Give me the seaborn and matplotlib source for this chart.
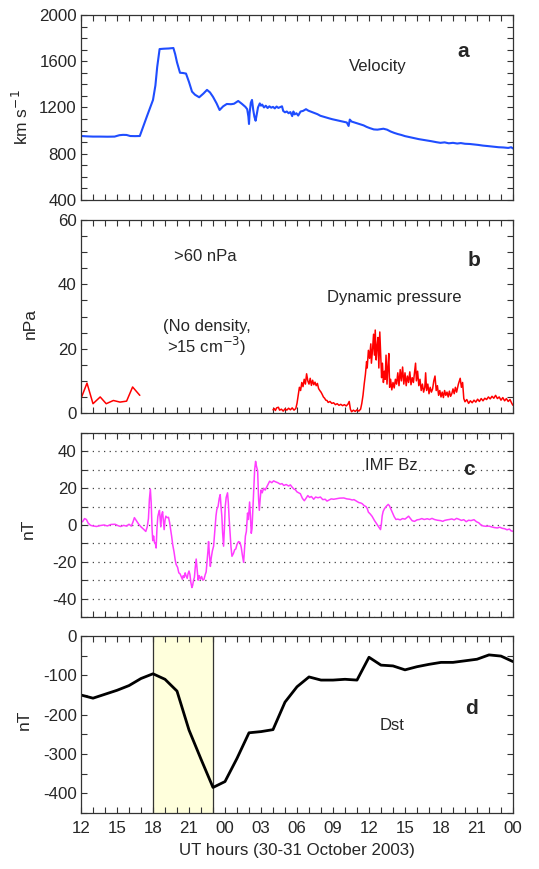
import pandas as pd
import matplotlib
matplotlib.use("Agg")
import matplotlib.pyplot as plt
import seaborn as sns
from matplotlib.ticker import MultipleLocator, FixedLocator

# hours counted from 00 UT 30 Oct 2003 (12 -> 12 UT on 30th, 48 -> 00 UT on 1 Nov)
hour_ticks = [12, 15, 18, 21, 24, 27, 30, 33, 36, 39, 42, 45, 48]
hour_labels = ["12", "15", "18", "21", "00", "03", "06", "09", "12", "15", "18", "21", "00"]

# (hour, km/s)
velocity = [
    (12.0, 953), (12.5, 950), (13.0, 948), (13.6, 948), (14.2, 947), (14.8, 948),
    (15.2, 960), (15.5, 963), (15.8, 962), (16.1, 953), (16.5, 952), (16.9, 953),
    (17.2, 1040), (17.5, 1125), (17.8, 1210), (18.0, 1265), (18.2, 1390), (18.35, 1550),
    (18.55, 1705), (18.9, 1708), (19.3, 1710), (19.7, 1714), (19.85, 1660), (20.0, 1590),
    (20.25, 1500), (20.5, 1498), (20.75, 1493), (21.0, 1420), (21.25, 1337), (21.5, 1310),
    (21.85, 1288), (22.2, 1320), (22.5, 1352), (22.75, 1330), (23.0, 1292), (23.3, 1235),
    (23.55, 1178), (23.85, 1210), (24.15, 1230), (24.5, 1228), (24.75, 1232), (25.1, 1256),
    (25.4, 1232), (25.7, 1205), (25.85, 1185), (25.95, 1120), (26.0, 1057), (26.05, 1150),
    (26.15, 1240), (26.25, 1265), (26.35, 1180), (26.45, 1120), (26.55, 1085), (26.65, 1140),
    (26.75, 1200), (26.9, 1235), (27.0, 1215), (27.1, 1225), (27.25, 1200), (27.4, 1215),
    (27.55, 1195), (27.7, 1210), (27.85, 1198), (28.0, 1205), (28.15, 1192), (28.3, 1208),
    (28.45, 1196), (28.6, 1203), (28.75, 1210), (28.85, 1170), (29.0, 1158), (29.15, 1165),
    (29.3, 1150), (29.45, 1160), (29.6, 1125), (29.7, 1165), (29.8, 1140), (29.95, 1150),
    (30.1, 1130), (30.3, 1165), (30.5, 1170), (30.75, 1185), (30.95, 1172), (31.2, 1162),
    (31.45, 1152), (31.7, 1142), (31.95, 1128), (32.2, 1120), (32.45, 1112), (32.7, 1105),
    (32.95, 1098), (33.2, 1092), (33.45, 1086), (33.7, 1080), (33.95, 1074), (34.15, 1070),
    (34.3, 1040), (34.4, 1095), (34.55, 1078), (34.8, 1070), (35.05, 1062), (35.3, 1055),
    (35.55, 1045), (35.8, 1032), (36.05, 1022), (36.4, 1010), (36.7, 1008), (36.95, 1012),
    (37.2, 1016), (37.5, 1008), (37.8, 992), (38.1, 980), (38.4, 970), (38.7, 962),
    (39.0, 952), (39.45, 942), (39.8, 935), (40.15, 926), (40.5, 920), (40.85, 914),
    (41.2, 908), (41.6, 900), (41.95, 894), (42.3, 898), (42.65, 890), (43.0, 894),
    (43.35, 888), (43.65, 892), (44.0, 886), (44.4, 884), (44.75, 880), (45.1, 876),
    (45.5, 870), (45.9, 866), (46.4, 860), (46.8, 856), (47.2, 854), (47.6, 850),
    (47.85, 856), (48.0, 845),
]

# (hour, nPa) before the data gap
pressure_early = [
    (12.0, 4.5), (12.5, 9.3), (13.0, 2.9), (13.6, 5.0), (14.1, 2.9), (14.7, 3.9),
    (15.25, 3.4), (15.8, 3.7), (16.3, 8.1), (16.9, 5.5),
]

# (hour, nPa) after the data gap
pressure_late = [
    (28.0, 1.0), (28.1, 1.4), (28.2, 0.8), (28.3, 1.6), (28.45, 1.8), (28.55, 0.9),
    (28.7, 1.2), (28.85, 0.6), (29.0, 1.3), (29.15, 0.9), (29.3, 1.5), (29.45, 1.0),
    (29.6, 1.6), (29.75, 0.9), (29.9, 1.4), (30.0, 3.0), (30.1, 5.5), (30.2, 8.0),
    (30.3, 7.0), (30.4, 9.5), (30.5, 8.2), (30.6, 10.5), (30.7, 9.0), (30.8, 12.2),
    (30.9, 10.0), (31.0, 9.0), (31.1, 10.8), (31.2, 8.6), (31.3, 10.2), (31.4, 8.8),
    (31.5, 9.6), (31.6, 8.5), (31.7, 9.2), (31.8, 7.6), (31.9, 7.0), (32.0, 6.5),
    (32.1, 5.8), (32.2, 5.0), (32.3, 4.6), (32.4, 4.0), (32.5, 3.9), (32.6, 3.3),
    (32.75, 3.6), (32.9, 3.0), (33.05, 3.2), (33.2, 2.6), (33.35, 2.9), (33.5, 2.4),
    (33.65, 2.7), (33.8, 2.3), (33.95, 2.6), (34.1, 2.2), (34.25, 2.8), (34.35, 3.6),
    (34.45, 1.2), (34.55, 0.4), (34.7, 0.9), (34.85, 0.5), (35.0, 1.0), (35.15, 0.6),
    (35.3, 1.2), (35.4, 3.0), (35.5, 5.5), (35.6, 9.0), (35.7, 12.0), (35.8, 16.0),
    (35.85, 14.0), (35.95, 19.5), (36.05, 17.0), (36.15, 21.5), (36.2, 15.5), (36.3, 20.0),
    (36.38, 24.5), (36.45, 18.0), (36.52, 25.8), (36.6, 16.5), (36.68, 21.0), (36.75, 23.5),
    (36.82, 14.0), (36.9, 25.2), (36.98, 17.5), (37.05, 11.0), (37.12, 15.5), (37.2, 9.5),
    (37.28, 13.0), (37.35, 10.5), (37.42, 18.0), (37.5, 9.0), (37.58, 14.5), (37.65, 18.5),
    (37.72, 8.0), (37.8, 10.5), (37.9, 7.2), (38.0, 9.5), (38.1, 7.8), (38.2, 10.5),
    (38.3, 9.0), (38.4, 12.5), (38.5, 8.5), (38.6, 13.5), (38.7, 10.0), (38.8, 14.3),
    (38.9, 9.0), (39.0, 12.5), (39.1, 8.5), (39.2, 11.5), (39.3, 9.5), (39.4, 12.8),
    (39.5, 8.8), (39.6, 11.0), (39.7, 9.5), (39.8, 13.0), (39.88, 15.5), (39.95, 10.0),
    (40.05, 13.0), (40.15, 8.5), (40.25, 10.5), (40.35, 7.0), (40.45, 9.0), (40.55, 6.5),
    (40.65, 8.0), (40.72, 12.5), (40.8, 7.0), (40.9, 9.0), (41.0, 6.0), (41.1, 8.0),
    (41.2, 6.5), (41.3, 7.5), (41.4, 10.0), (41.5, 11.5), (41.6, 7.0), (41.7, 8.5),
    (41.8, 5.5), (41.9, 7.0), (42.0, 5.0), (42.1, 6.5), (42.2, 4.8), (42.3, 7.0),
    (42.4, 5.5), (42.5, 6.5), (42.6, 5.0), (42.7, 6.8), (42.8, 5.2), (42.9, 6.0),
    (43.0, 7.5), (43.1, 6.0), (43.2, 8.0), (43.3, 6.5), (43.45, 9.0), (43.6, 10.8),
    (43.7, 8.0), (43.8, 9.5), (43.9, 4.5), (44.0, 3.5), (44.15, 4.2), (44.3, 3.0),
    (44.45, 3.8), (44.6, 3.2), (44.75, 4.0), (44.9, 3.4), (45.05, 4.3), (45.2, 3.6),
    (45.35, 4.5), (45.5, 3.8), (45.65, 4.6), (45.8, 4.2), (45.95, 5.0), (46.1, 4.4),
    (46.25, 5.2), (46.4, 4.6), (46.55, 5.5), (46.7, 4.5), (46.85, 5.0), (47.0, 4.0),
    (47.15, 4.8), (47.3, 3.8), (47.45, 4.5), (47.6, 3.6), (47.75, 4.2), (47.9, 3.0),
    (48.0, 2.4),
]

# (hour, nT)
imf_bz = [
    (12.0, 1.4), (12.15, 2.0), (12.3, 3.5), (12.45, 3.0), (12.6, 1.0), (12.8, -0.2),
    (13.0, -0.5), (13.3, -0.8), (13.6, -0.3), (13.9, 0.0), (14.2, -0.5), (14.5, 0.3),
    (14.84, 0.4), (15.1, -0.4), (15.3, -0.8), (15.55, -0.2), (15.8, -0.6), (16.0, 0.4),
    (16.2, -0.6), (16.35, 2.0), (16.45, 4.0), (16.6, 2.5), (16.8, 0.5), (17.0, -1.0),
    (17.2, -2.2), (17.4, -3.5), (17.52, -1.0), (17.62, 3.5), (17.7, 14.0), (17.78, 19.5),
    (17.85, 12.0), (17.92, -2.0), (17.98, -8.5), (18.05, -6.0), (18.12, -9.5), (18.2, -10.0),
    (18.26, -12.5), (18.33, -2.0), (18.4, 4.5), (18.47, 6.5), (18.54, 8.0), (18.6, 3.0),
    (18.65, -1.0), (18.72, 5.5), (18.8, 7.2), (18.87, 2.0), (18.93, -2.5), (19.0, 2.5),
    (19.07, 4.8), (19.18, 4.0), (19.29, 4.2), (19.38, 1.5), (19.45, -1.5), (19.55, -6.0),
    (19.65, -11.0), (19.75, -14.5), (19.85, -19.0), (19.93, -21.5), (20.05, -23.0), (20.15, -26.0),
    (20.25, -26.5), (20.35, -28.0), (20.45, -29.5), (20.52, -27.5), (20.6, -28.5), (20.68, -26.0),
    (20.75, -27.5), (20.85, -29.0), (20.92, -26.5), (21.0, -25.0), (21.08, -27.0), (21.15, -31.0),
    (21.24, -34.0), (21.3, -33.0), (21.38, -30.0), (21.45, -28.5), (21.52, -23.0), (21.6, -18.5),
    (21.68, -24.0), (21.76, -30.0), (21.85, -27.5), (21.95, -29.5), (22.05, -28.0), (22.15, -30.0),
    (22.25, -29.5), (22.35, -27.0), (22.43, -25.5), (22.5, -20.0), (22.58, -14.0), (22.63, -9.0),
    (22.7, -16.0), (22.78, -22.5), (22.85, -18.0), (22.95, -14.0), (23.05, -11.5), (23.15, -3.0),
    (23.25, 5.0), (23.32, 8.5), (23.42, 10.0), (23.52, 14.5), (23.6, 16.5), (23.67, 10.0),
    (23.74, 4.5), (23.8, -4.0), (23.88, -11.5), (23.95, -2.0), (24.02, 10.0), (24.1, 15.0),
    (24.21, 17.5), (24.28, 12.0), (24.34, 4.0), (24.4, -2.0), (24.5, -12.0), (24.58, -17.0),
    (24.7, -15.5), (24.8, -13.5), (24.9, -13.0), (25.0, -10.5), (25.13, -9.0), (25.25, -9.5),
    (25.35, -12.0), (25.45, -16.5), (25.55, -20.3), (25.62, -14.0), (25.7, -6.0), (25.78, -3.5),
    (25.88, 6.5), (25.95, 3.0), (26.05, 12.5), (26.12, 5.0), (26.19, -4.5), (26.25, -2.0),
    (26.32, 8.0), (26.4, 20.0), (26.47, 30.0), (26.55, 34.6), (26.62, 32.0), (26.72, 29.5),
    (26.8, 14.0), (26.86, 8.0), (26.93, 14.0), (27.0, 19.0), (27.1, 17.5), (27.22, 20.0),
    (27.35, 19.0), (27.5, 21.0), (27.62, 22.5), (27.72, 23.8), (27.9, 23.0), (28.05, 24.0),
    (28.2, 23.5), (28.4, 23.0), (28.6, 22.2), (28.75, 22.5), (28.9, 21.5), (29.1, 22.0),
    (29.3, 21.2), (29.45, 21.8), (29.6, 20.5), (29.75, 19.5), (29.86, 19.2), (30.0, 18.0),
    (30.15, 17.5), (30.28, 17.0), (30.45, 14.5), (30.61, 13.2), (30.75, 14.5), (30.9, 16.0),
    (31.05, 15.0), (31.2, 15.5), (31.39, 14.0), (31.55, 15.2), (31.75, 14.8), (31.95, 15.2),
    (32.15, 13.8), (32.35, 14.0), (32.5, 13.0), (32.65, 13.5), (32.85, 14.2), (33.06, 14.0),
    (33.3, 14.3), (33.55, 14.6), (33.9, 14.7), (34.15, 14.2), (34.4, 14.0), (34.6, 13.6),
    (34.75, 13.8), (34.95, 13.0), (35.15, 12.2), (35.3, 12.0), (35.43, 11.6), (35.6, 10.5),
    (35.75, 10.0), (35.85, 9.0), (35.95, 7.0), (36.1, 6.0), (36.26, 4.7), (36.45, 2.5),
    (36.65, 0.5), (36.8, -1.0), (36.96, -2.5), (37.03, 0.5), (37.1, 5.0), (37.18, 7.4),
    (37.3, 9.0), (37.45, 10.2), (37.6, 11.2), (37.7, 10.5), (37.8, 9.0), (37.93, 7.0),
    (38.1, 4.5), (38.25, 3.0), (38.4, 3.2), (38.6, 2.8), (38.8, 3.5), (39.0, 3.2),
    (39.15, 4.0), (39.3, 4.8), (39.45, 3.5), (39.6, 2.3), (39.8, 2.0), (40.0, 2.8),
    (40.2, 3.0), (40.4, 3.5), (40.6, 3.0), (40.85, 3.4), (41.05, 3.0), (41.25, 3.6),
    (41.45, 3.0), (41.7, 2.6), (41.95, 2.4), (42.15, 2.0), (42.3, 2.5), (42.5, 2.8),
    (42.7, 3.0), (42.9, 3.3), (43.1, 2.8), (43.3, 3.6), (43.5, 3.1), (43.7, 2.5),
    (43.9, 2.9), (44.1, 1.8), (44.3, 2.6), (44.5, 2.4), (44.75, 2.9), (44.95, 1.8),
    (45.15, 1.2), (45.3, 0.2), (45.5, -0.5), (45.75, -0.7), (46.0, -0.6), (46.2, -1.0),
    (46.45, -1.4), (46.7, -1.6), (46.9, -1.2), (47.1, -1.8), (47.3, -2.0), (47.5, -2.6),
    (47.7, -2.2), (47.85, -3.2), (48.0, -3.4),
]

# hourly Dst (nT), 12 UT 30 Oct .. 00 UT 1 Nov
dst_hours = list(range(12, 49))
dst_values = [
    -150, -158, -148, -138, -126, -108, -96, -110, -140, -239, -313, -385,
    -370, -311, -246, -243, -238, -168, -129, -104, -112, -112, -110, -112,
    -54, -74, -76, -86, -78, -72, -67, -67, -63, -59, -48, -51, -65,
]

main_phase = (18, 23)

sns.set_style("ticks")
plt.rcParams["font.family"] = ["Liberation Sans", "DejaVu Sans"]
plt.rcParams["axes.unicode_minus"] = False
plt.rcParams["font.size"] = 12

fig = plt.figure(figsize=(5.39, 8.69), dpi=100)
left, width = 81 / 539, 432 / 539
ax_a = fig.add_axes([left, 0.7699, width, 0.2129])
ax_b = fig.add_axes([left, 0.5247, width, 0.2221])
ax_c = fig.add_axes([left, 0.2900, width, 0.2117])
ax_d = fig.add_axes([left, 0.0644, width, 0.2037])


def to_df(pairs):
    return pd.DataFrame(pairs, columns=["hour", "value"])


sns.lineplot(data=to_df(velocity), x="hour", y="value", ax=ax_a,
             color="#1f4dff", lw=1.5, estimator=None, sort=False)
sns.lineplot(data=to_df(pressure_early), x="hour", y="value", ax=ax_b,
             color="#ff0000", lw=1.1, estimator=None, sort=False)
sns.lineplot(data=to_df(pressure_late), x="hour", y="value", ax=ax_b,
             color="#ff0000", lw=1.1, estimator=None, sort=False)
sns.lineplot(data=to_df(imf_bz), x="hour", y="value", ax=ax_c,
             color="#ff3cff", lw=1.1, estimator=None, sort=False)
ax_d.axvspan(*main_phase, color="#ffffdc", zorder=0)
for h in main_phase:
    ax_d.axvline(h, color="#333333", lw=0.9, zorder=1)
sns.lineplot(x=dst_hours, y=dst_values, ax=ax_d,
             color="black", lw=2.0, estimator=None, sort=False)

# y axes
ax_a.set_ylim(400, 2000)
ax_a.yaxis.set_major_locator(MultipleLocator(400))
ax_a.yaxis.set_minor_locator(MultipleLocator(100))
ax_b.set_ylim(0, 60)
ax_b.yaxis.set_major_locator(MultipleLocator(20))
ax_b.yaxis.set_minor_locator(MultipleLocator(5))
ax_c.set_ylim(-50, 50)
ax_c.yaxis.set_major_locator(FixedLocator([-40, -20, 0, 20, 40]))
ax_c.yaxis.set_minor_locator(MultipleLocator(10))
ax_c.grid(axis="y", which="both", ls=(0, (1, 3.5)), color="#444444", lw=0.9)
ax_d.set_ylim(-450, 0)
ax_d.yaxis.set_major_locator(MultipleLocator(100))
ax_d.yaxis.set_minor_locator(MultipleLocator(50))

ylabels = [(ax_a, "km s$^{-1}$", -0.115, 0.45), (ax_b, "nPa", -0.10, 0.466),
           (ax_c, "nT", -0.104, 0.48), (ax_d, "nT", -0.114, 0.525)]
for ax, lab, lx, ly in ylabels:
    ax.set_ylabel(lab, fontsize=12.5)
    ax.yaxis.set_label_coords(lx, ly)

for ax in (ax_a, ax_b, ax_c, ax_d):
    ax.set_xlim(12, 48)
    ax.xaxis.set_major_locator(FixedLocator(hour_ticks))
    ax.xaxis.set_minor_locator(MultipleLocator(1))
    ax.tick_params(which="both", direction="in", top=True, right=True,
                   length=4, width=0.8, color="#333333", labelsize=12.2)
    ax.tick_params(axis="y", which="major", pad=3)
    for sp in ax.spines.values():
        sp.set_visible(True)
        sp.set_color("#333333")
        sp.set_linewidth(0.9)
    if ax is not ax_d:
        ax.set_xticklabels([])
    ax.set_xlabel("")

ax_d.set_xticklabels(hour_labels)
ax_d.tick_params(axis="x", pad=6)
ax_d.set_xlabel("UT hours (30-31 October 2003)", fontsize=12.2, labelpad=5)

# annotations
ax_a.text(0.687, 0.724, "Velocity", transform=ax_a.transAxes, ha="center", va="center", fontsize=12)
ax_a.text(0.884, 0.80, "a", transform=ax_a.transAxes, ha="center", va="center",
          fontsize=15, fontweight="bold")
ax_b.text(0.288, 0.81, ">60 nPa", transform=ax_b.transAxes, ha="center", va="center", fontsize=12)
ax_b.text(0.19, 0.446, "(No density,", transform=ax_b.transAxes, ha="left", va="center", fontsize=12)
ax_b.text(0.20, 0.345, ">15 cm$^{-3}$)", transform=ax_b.transAxes, ha="left", va="center", fontsize=12)
ax_b.text(0.724, 0.60, "Dynamic pressure", transform=ax_b.transAxes, ha="center", va="center", fontsize=12)
ax_b.text(0.91, 0.79, "b", transform=ax_b.transAxes, ha="center", va="center",
          fontsize=15, fontweight="bold")
ax_c.text(0.719, 0.826, "IMF Bz", transform=ax_c.transAxes, ha="center", va="center", fontsize=12,
          bbox=dict(facecolor="white", edgecolor="none", pad=0.5))
ax_c.text(0.898, 0.80, "c", transform=ax_c.transAxes, ha="center", va="center",
          fontsize=15, fontweight="bold")
ax_d.text(0.719, 0.497, "Dst", transform=ax_d.transAxes, ha="center", va="center", fontsize=12)
ax_d.text(0.905, 0.593, "d", transform=ax_d.transAxes, ha="center", va="center",
          fontsize=15, fontweight="bold")

fig.savefig("out.png", dpi=100)
